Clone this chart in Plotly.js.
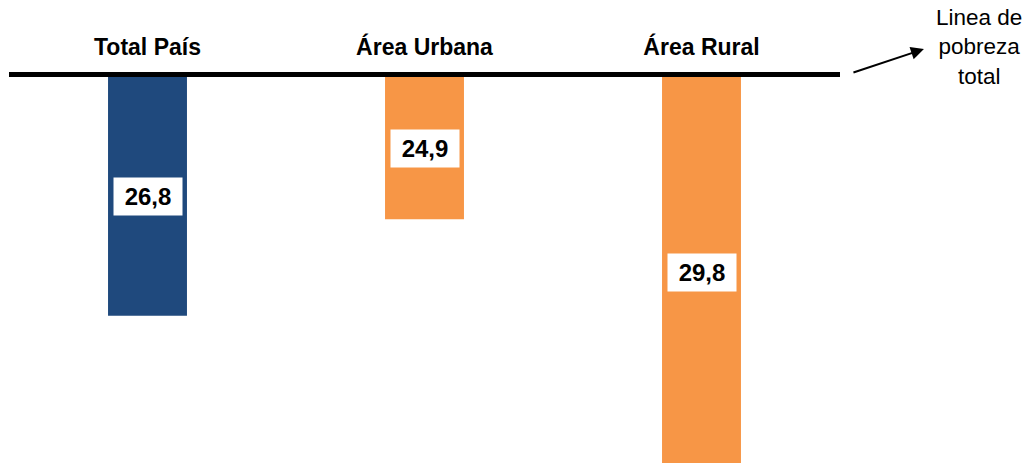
<!DOCTYPE html>
<html>
<head>
<meta charset="utf-8">
<script src="https://cdn.plot.ly/plotly-3.0.1.min.js"></script>
<style>html,body{margin:0;padding:0;background:#fff;}#chart{width:1032px;height:463px;}</style>
</head>
<body>
<div id="chart"></div>
<script>
const categories = ['Total País', 'Área Urbana', 'Área Rural'];
const values = [26.8, 24.9, 29.8];
const valueLabels = ['26,8', '24,9', '29,8'];
const barColors = ['#1F497D', '#F79646', '#F79646'];
const baseline = 22.1;       // poverty line level (bars hang below it)
const axisBottom = 29.7;
const lineText = 'Linea de<br>pobreza<br>total';

const FONT = 'Arial, "Liberation Sans", sans-serif';

const trace = {
  type: 'bar',
  x: categories,
  y: values.map(v => v - baseline),
  base: values.map(() => baseline),
  width: 0.285,
  marker: { color: barColors, line: { width: 0 } },
  hoverinfo: 'none',
  cliponaxis: true
};

const annotations = categories.map((c, i) => ({
  x: c, y: (values[i] + baseline) / 2, xref: 'x', yref: 'y',
  text: valueLabels[i], showarrow: false,
  font: { family: FONT, size: 24, color: '#000', weight: 'bold' },
  bgcolor: '#ffffff', width: 68, height: 37, borderpad: 0,
  xanchor: 'center', yanchor: 'middle'
}));

annotations.push({
  xref: 'paper', yref: 'paper', x: 1.101, y: 1.0725,
  ax: -72, ay: 24, axref: 'pixel', ayref: 'pixel',
  text: '', showarrow: true, arrowhead: 2, arrowsize: 1.3, arrowwidth: 2, arrowcolor: '#000', standoff: 0
});
annotations.push({
  xref: 'paper', yref: 'paper', x: 1.167, y: 1.078,
  text: lineText, showarrow: false, align: 'center',
  xanchor: 'center', yanchor: 'middle',
  font: { family: FONT, size: 22.5, color: '#000' }
});

const layout = {
  width: 1032, height: 463,
  margin: { l: 9, r: 192, t: 77, b: 0, pad: 0 },
  paper_bgcolor: '#fff', plot_bgcolor: '#fff',
  showlegend: false,
  xaxis: {
    side: 'top', showline: true, linewidth: 5, linecolor: '#000',
    ticks: '', showgrid: false, zeroline: false, fixedrange: true,
    ticklabelstandoff: 8,
    tickfont: { family: FONT, size: 23, color: '#000', weight: 'bold' }
  },
  yaxis: {
    range: [axisBottom, baseline], visible: false, showgrid: false,
    zeroline: false, fixedrange: true
  },
  annotations: annotations
};

Plotly.newPlot('chart', [trace], layout, { displayModeBar: false, staticPlot: true });
</script>
</body>
</html>
